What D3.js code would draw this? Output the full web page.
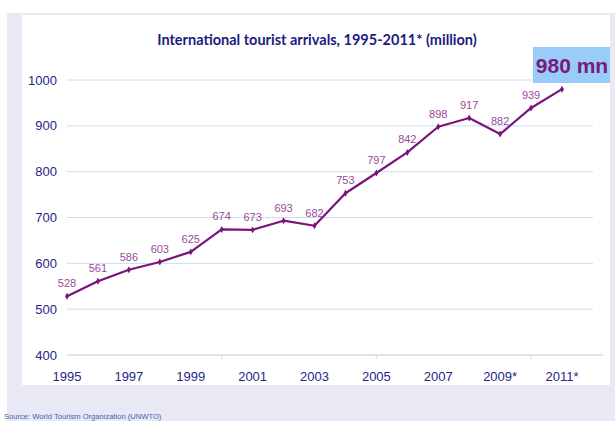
<!DOCTYPE html>
<html>
<head>
<meta charset="utf-8">
<script src="https://cdn.jsdelivr.net/npm/d3@7"></script>
<style>
  body { margin: 0; background: #fff; }
  svg { display: block; }
  .y-axis text, .x-axis text { font-family: "Liberation Sans", Arial, sans-serif; fill: #26268a; }
</style>
</head>
<body>
<svg id="chart"></svg>
<script>
// data
const years = [1995, 1996, 1997, 1998, 1999, 2000, 2001, 2002, 2003, 2004, 2005, 2006, 2007, 2008, 2009, 2010, 2011];
const arrivals = [528, 561, 586, 603, 625, 674, 673, 693, 682, 753, 797, 842, 898, 917, 882, 939, 980];
const yTicks = [400, 500, 600, 700, 800, 900, 1000];
const xLabelYears = [1995, 1997, 1999, 2001, 2003, 2005, 2007, 2009, 2011];
const xLabels = ['1995', '1997', '1999', '2001', '2003', '2005', '2007', '2009*', '2011*'];
const xTickMarks = [2000, 2005, 2010];

const width = 615, height = 421;
const margin = {top: 80, right: 53, bottom: 66, left: 67};

const svg = d3.select('#chart')
    .attr('width', width)
    .attr('height', height);

// background panels
svg.append('rect')
    .attr('x', 7).attr('y', 13)
    .attr('width', width - 7).attr('height', height - 13)
    .attr('fill', '#e9e9f5');
svg.append('rect')
    .attr('x', 22).attr('y', 15)
    .attr('width', 588).attr('height', 370)
    .attr('fill', '#ffffff');

const xScale = d3.scaleLinear()
    .domain([1995, 2011])
    .range([margin.left, width - margin.right]);

const yScale = d3.scaleLinear()
    .domain([400, 1000])
    .range([height - margin.bottom, margin.top]);

// gridlines
svg.append('g')
    .selectAll('line')
    .data(yTicks.filter(d => d > 400))
  .join('line')
    .attr('x1', xScale(1995))
    .attr('x2', 593)
    .attr('y1', d => yScale(d))
    .attr('y2', d => yScale(d))
    .attr('stroke', '#c9def2')
    .attr('stroke-width', 1);

// y axis labels
svg.append('g')
    .attr('class', 'y-axis')
    .selectAll('text')
    .data(yTicks)
  .join('text')
    .attr('x', 57)
    .attr('y', d => yScale(d))
    .attr('dy', '0.35em')
    .attr('text-anchor', 'end')
    .attr('font-size', 13)
    .text(d => d);

// x axis line + ticks
const xAxisG = svg.append('g').attr('class', 'x-axis');
xAxisG.append('line')
    .attr('x1', xScale(1995)).attr('x2', 603)
    .attr('y1', yScale(400)).attr('y2', yScale(400))
    .attr('stroke', '#d9d9d9').attr('stroke-width', 1.3);
xAxisG.selectAll('.tickmark')
    .data(xTickMarks)
  .join('line')
    .attr('class', 'tickmark')
    .attr('x1', d => xScale(d)).attr('x2', d => xScale(d))
    .attr('y1', yScale(400)).attr('y2', yScale(400) + 4)
    .attr('stroke', '#d9d9d9');
xAxisG.selectAll('.xlabel')
    .data(xLabelYears)
  .join('text')
    .attr('class', 'xlabel')
    .attr('x', d => xScale(d))
    .attr('y', 381)
    .attr('text-anchor', 'middle')
    .attr('font-size', 13)
    .text((d, i) => xLabels[i]);

// line
const data = years.map((y, i) => ({year: y, value: arrivals[i]}));
const line = d3.line()
    .x(d => xScale(d.year))
    .y(d => yScale(d.value));

svg.append('path')
    .datum(data)
    .attr('fill', 'none')
    .attr('stroke', '#7b137b')
    .attr('stroke-width', 2.2)
    .attr('stroke-linejoin', 'round')
    .attr('d', line);

// markers
svg.append('g')
    .selectAll('path')
    .data(data)
  .join('path')
    .attr('d', d3.symbol(d3.symbolDiamond, 14))
    .attr('transform', d => `translate(${xScale(d.year)},${yScale(d.value)})`)
    .attr('fill', '#7b137b');

// value labels (last one shown in box)
svg.append('g')
    .selectAll('text')
    .data(data.slice(0, -1))
  .join('text')
    .attr('x', d => xScale(d.year))
    .attr('y', d => yScale(d.value) - 9)
    .attr('text-anchor', 'middle')
    .attr('font-family', '"Liberation Sans", Arial, sans-serif')
    .attr('font-size', 11)
    .attr('fill', '#9a4a9a')
    .text(d => d.value);

// highlight box
svg.append('rect')
    .attr('x', 533).attr('y', 47)
    .attr('width', 77).attr('height', 36)
    .attr('fill', '#99ccf8');
svg.append('text')
    .attr('x', 572).attr('y', 73)
    .attr('text-anchor', 'middle')
    .attr('font-family', '"Liberation Sans", Arial, sans-serif')
    .attr('font-weight', 'bold')
    .attr('font-size', 21)
    .attr('fill', '#7a1a7a')
    .text(arrivals[arrivals.length - 1] + ' mn');

// title
svg.append('text')
    .attr('x', 317).attr('y', 45)
    .attr('text-anchor', 'middle')
    .attr('font-family', 'Lato, "Open Sans", sans-serif')
    .attr('font-weight', 'bold')
    .attr('font-size', 14.5)
    .attr('fill', '#1c1c7e')
    .text('International tourist arrivals, 1995-2011* (million)');

// source
svg.append('text')
    .attr('x', 4).attr('y', 419)
    .attr('font-family', '"Liberation Sans", Arial, sans-serif')
    .attr('font-size', 7.6)
    .attr('fill', '#3f63a8')
    .text('Source: World Tourism Organization (UNWTO)');
</script>
</body>
</html>
